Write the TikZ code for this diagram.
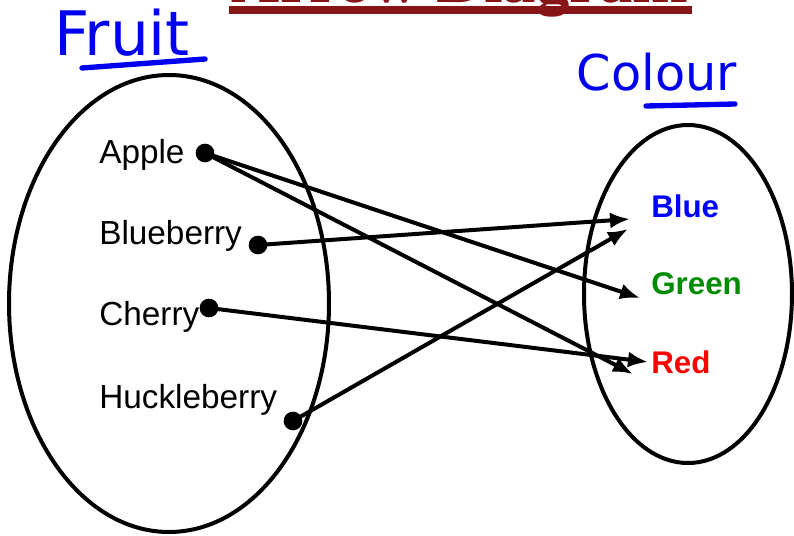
\documentclass[tikz,border=0pt]{standalone}
\usepackage{fontspec}
\setmainfont{Liberation Sans}
\newfontfamily\handfont{DejaVu Sans}
\newfontfamily\titlefont{Liberation Serif}
\usetikzlibrary{arrows.meta,shapes.geometric}
\definecolor{titlered}{RGB}{135,20,22}
\definecolor{handblue}{RGB}{0,0,240}
\definecolor{labgreen}{RGB}{0,140,0}
\definecolor{labred}{RGB}{255,0,0}
\definecolor{labblue}{RGB}{0,0,255}
\begin{document}
\begin{tikzpicture}[x=0.75pt,y=-0.75pt,
  setshape/.style={draw, ellipse, line width=3pt, inner sep=0pt},
  dotnode/.style={circle, fill=black, inner sep=0pt, minimum size=14pt},
  fruitlab/.style={anchor=base west, inner sep=0pt, font=\fontsize{25}{29}\selectfont},
  colourlab/.style={anchor=base west, inner sep=0pt, font=\bfseries\fontsize{23.5}{27}\selectfont},
  arr/.style={line width=3pt, -{Latex[length=15pt,width=12pt]}},
  handtext/.style={text=handblue, inner sep=0pt, font=\handfont\fontsize{#1}{#1}\selectfont},
  handline/.style={draw=handblue, line width=4pt, line cap=round}
]
\clip (0,0) rectangle (794,536);
\useasboundingbox (0,0) rectangle (794,536);

% cut-off title
\node[anchor=base, inner sep=0pt, text=titlered, font=\titlefont\bfseries\fontsize{50}{60}\selectfont] (title) at (460,2) {Arrow Diagram};
\fill[titlered] (229,6) rectangle (692,14);

% handwritten headings
\node[handtext=46] (fruithead) at (122,33) {Fruit};
\coordinate (fruitulA) at (82,68);
\coordinate (fruitulB) at (205,59);
\draw[handline] (fruitulA) -- (fruitulB);
\node[handtext=37] (colourhead) at (657,72) {Colour};
\coordinate (colulA) at (646,106);
\coordinate (colulB) at (735,104);
\draw[handline] (colulA) -- (colulB);

% sets
\node[setshape, minimum width=240pt, minimum height=342.75pt] (fruitset) at (169,303.5) {};
\node[setshape, minimum width=156pt, minimum height=253.5pt] (colourset) at (688,294) {};

% labels
\node[fruitlab] (applelab) at (99,163) {Apple};
\node[fruitlab] (bluelab) at (99,244) {Blueberry};
\node[fruitlab] (cherrylab) at (99,325) {Cherry};
\node[fruitlab] (hucklab) at (99,408) {Huckleberry};

\node[colourlab, text=labblue] (blue) at (651,217) {Blue};
\node[colourlab, text=labgreen] (green) at (651,294) {Green};
\node[colourlab, text=labred] (red) at (651,373) {Red};

% dots
\node[dotnode] (apple) at (205,153) {};
\node[dotnode] (blueberry) at (258,245) {};
\node[dotnode] (cherry) at (209,308) {};
\node[dotnode] (huckleberry) at (293,421) {};

% arrow ends
\coordinate (tipblueA) at (630,219);
\coordinate (tipblueB) at (628,229);
\coordinate (tipgreen) at (640,298);
\coordinate (tipredA) at (648,362);
\coordinate (tipredB) at (633,374);

\draw[arr] (apple.center) -- (tipgreen);
\draw[arr] (apple.center) -- (tipredB);
\draw[arr] (blueberry.center) -- (tipblueA);
\draw[arr] (cherry.center) -- (tipredA);
\draw[arr] (huckleberry.center) -- (tipblueB);
\end{tikzpicture}
\end{document}
